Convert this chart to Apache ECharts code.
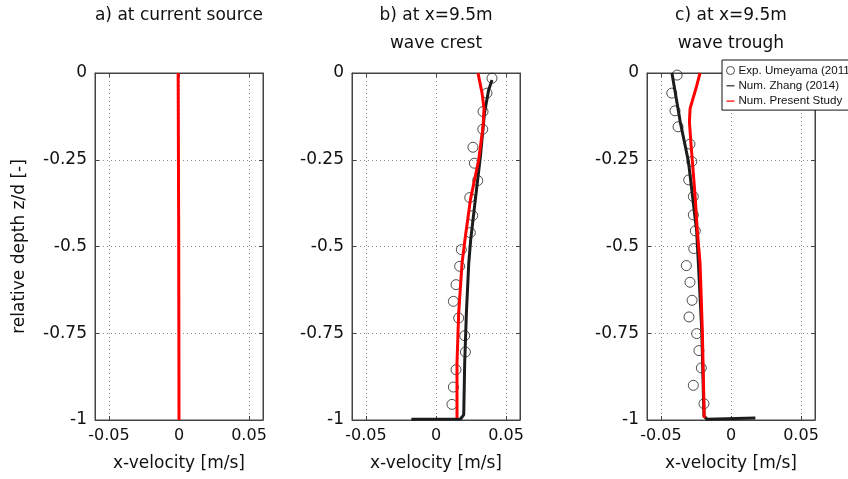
<!DOCTYPE html>
<html>
<head>
<meta charset="utf-8">
<script src="https://cdn.jsdelivr.net/npm/echarts@6/dist/echarts.min.js"></script>
<style>html,body{margin:0;padding:0;background:#fff}#c{width:848px;height:479px}</style>
</head>
<body>
<div id="c"></div>
<script>
// ---- data ----
const xTicks = [-0.05, 0, 0.05];
const yTicks = [0, -0.25, -0.5, -0.75, -1];

const aPresentDepth = [0, -0.25, -0.5, -0.75, -1];
const aPresentVel   = [-0.0006, -0.0004, -0.0002, -0.0001, 0.0];

const bExpDepth = [-0.015, -0.058, -0.111, -0.162, -0.214, -0.26, -0.31, -0.359, -0.411, -0.46, -0.509, -0.557, -0.61, -0.658, -0.706, -0.757, -0.804, -0.855, -0.905, -0.955];
const bExpVel   = [0.040, 0.0364, 0.0336, 0.0334, 0.0264, 0.0274, 0.0298, 0.0241, 0.0262, 0.0245, 0.0181, 0.0169, 0.0143, 0.0124, 0.0162, 0.0205, 0.021, 0.0143, 0.0124, 0.0114];
const bZhangDepth = [-0.02, -0.049, -0.116, -0.241, -0.365, -0.48, -0.548, -0.692, -0.835, -0.985, -0.997, -0.998];
const bZhangVel   = [0.040, 0.0376, 0.0346, 0.0317, 0.0281, 0.0248, 0.0234, 0.0217, 0.0205, 0.0198, 0.0175, -0.0176];
const bPresentDepth = [0, -0.058, -0.102, -0.155, -0.25, -0.365, -0.48, -0.548, -0.692, -0.835, -0.994];
const bPresentVel   = [0.030, 0.0329, 0.0343, 0.0336, 0.0305, 0.0246, 0.0207, 0.0186, 0.0162, 0.015, 0.015];

const cExpDepth = [-0.006, -0.058, -0.109, -0.155, -0.205, -0.255, -0.308, -0.356, -0.409, -0.455, -0.506, -0.555, -0.603, -0.655, -0.703, -0.751, -0.80, -0.85, -0.90, -0.953];
const cExpVel   = [-0.0385, -0.0423, -0.040, -0.0378, -0.0293, -0.028, -0.0302, -0.0269, -0.0269, -0.0255, -0.0266, -0.0319, -0.0293, -0.0278, -0.030, -0.0245, -0.0229, -0.0212, -0.0269, -0.0193];
const cZhangDepth = [0, -0.14, -0.255, -0.457, -0.548, -0.74, -0.989, -0.998, -0.994];
const cZhangVel   = [-0.0422, -0.0363, -0.0304, -0.0245, -0.0233, -0.0209, -0.0193, -0.017, 0.0174];
const cPresentDepth = [0, -0.044, -0.102, -0.14, -0.198, -0.265, -0.351, -0.457, -0.548, -0.74, -0.994];
const cPresentVel   = [-0.0221, -0.025, -0.0292, -0.0297, -0.0287, -0.0274, -0.0257, -0.024, -0.0221, -0.0205, -0.0191];

const titles = ['a) at current source', 'b) at x=9.5m', 'c) at x=9.5m'];
const subTitles = ['', 'wave crest', 'wave trough'];
const xName = 'x-velocity [m/s]';
const yName = 'relative depth z/d [-]';
const sExp = 'Exp. Umeyama (2011)';
const sZhang = 'Num. Zhang (2014)';
const sPresent = 'Num. Present Study';

// ---- build ----
const FONT = 'DejaVu Sans';
const lefts = [95, 352, 647];
const centers = lefts.map(l => l + 84);
const zip = (xs, ys) => xs.map((x, i) => [x, ys[i]]);

const grid = [], xAxis = [], yAxis = [], series = [], title = [];
lefts.forEach((l, i) => {
  grid.push({left: l, top: 73, width: 168, height: 347, show: true, borderColor: '#444', borderWidth: 1, backgroundColor: '#fff'});
  const gridLine = {show: true, lineStyle: {color: '#888', type: [1, 3], width: 1}};
  xAxis.push({
    type: 'value', gridIndex: i, min: -0.06, max: 0.06, position: 'bottom',
    name: xName, nameLocation: 'middle', nameGap: 35,
    nameTextStyle: {fontFamily: FONT, fontSize: 17, color: '#111'},
    axisLine: {show: true, onZero: false, lineStyle: {color: '#444'}},
    axisTick: {show: true, inside: true, length: 4, customValues: xTicks, lineStyle: {color: '#444'}},
    axisLabel: {customValues: xTicks, margin: 8, fontFamily: FONT, fontSize: 16, color: '#111'},
    splitLine: gridLine
  });
  xAxis.push({
    type: 'value', gridIndex: i, min: -0.06, max: 0.06, position: 'top',
    axisLine: {show: true, onZero: false, lineStyle: {color: '#444'}},
    axisTick: {show: true, inside: true, length: 4, customValues: xTicks, lineStyle: {color: '#444'}},
    axisLabel: {show: false, customValues: xTicks},
    splitLine: {show: false}
  });
  yAxis.push({
    type: 'value', gridIndex: i, min: -1, max: 0, interval: 0.25, position: 'left',
    name: i === 0 ? yName : '', nameLocation: 'middle', nameGap: 67, nameRotate: 90,
    nameTextStyle: {fontFamily: FONT, fontSize: 17, color: '#111'},
    axisLine: {show: true, onZero: false, lineStyle: {color: '#444'}},
    axisTick: {show: true, inside: true, length: 4, lineStyle: {color: '#444'}},
    axisLabel: {margin: 8, fontFamily: FONT, fontSize: 17, color: '#111'},
    splitLine: gridLine
  });
  yAxis.push({
    type: 'value', gridIndex: i, min: -1, max: 0, interval: 0.25, position: 'right',
    axisLine: {show: true, onZero: false, lineStyle: {color: '#444'}},
    axisTick: {show: true, inside: true, length: 4, lineStyle: {color: '#444'}},
    axisLabel: {show: false},
    splitLine: {show: false}
  });
  title.push({text: titles[i], left: centers[i], top: 7, padding: 0, textAlign: 'center',
    textStyle: {fontFamily: FONT, fontSize: 17, fontWeight: 'normal', color: '#111'}});
  if (subTitles[i]) title.push({text: subTitles[i], left: centers[i], top: 35, padding: 0, textAlign: 'center',
    textStyle: {fontFamily: FONT, fontSize: 17, fontWeight: 'normal', color: '#111'}});
});

const expStyle = {type: 'scatter', symbol: 'circle', symbolSize: 10,
  itemStyle: {color: 'rgba(255,255,255,0)', borderColor: '#222', borderWidth: 1}, z: 3};
const zhangStyle = {type: 'line', symbol: 'none', lineStyle: {color: '#1c1c1c', width: 3}, itemStyle: {color: '#1c1c1c'}, z: 4};
const presStyle = {type: 'line', symbol: 'none', lineStyle: {color: '#ff0000', width: 3}, itemStyle: {color: '#ff0000'}, z: 5};

series.push(Object.assign({}, presStyle, {name: sPresent, xAxisIndex: 0, yAxisIndex: 0, data: zip(aPresentVel, aPresentDepth)}));
series.push(Object.assign({}, expStyle, {name: sExp, xAxisIndex: 2, yAxisIndex: 2, data: zip(bExpVel, bExpDepth)}));
series.push(Object.assign({}, zhangStyle, {name: sZhang, xAxisIndex: 2, yAxisIndex: 2, data: zip(bZhangVel, bZhangDepth)}));
series.push(Object.assign({}, presStyle, {name: sPresent, xAxisIndex: 2, yAxisIndex: 2, data: zip(bPresentVel, bPresentDepth)}));
series.push(Object.assign({}, expStyle, {name: sExp, xAxisIndex: 4, yAxisIndex: 4, data: zip(cExpVel, cExpDepth)}));
series.push(Object.assign({}, zhangStyle, {name: sZhang, xAxisIndex: 4, yAxisIndex: 4, data: zip(cZhangVel, cZhangDepth)}));
series.push(Object.assign({}, presStyle, {name: sPresent, xAxisIndex: 4, yAxisIndex: 4, data: zip(cPresentVel, cPresentDepth)}));

const chart = echarts.init(document.getElementById('c'), null, {renderer: 'canvas'});
chart.setOption({
  animation: false,
  backgroundColor: '#fff',
  title: title,
  grid: grid,
  xAxis: xAxis,
  yAxis: yAxis,
  legend: {
    orient: 'vertical', left: 722, top: 60, z: 10,
    backgroundColor: '#fff', borderColor: '#111', borderWidth: 1,
    padding: [4.5, 6, 3, 4], itemGap: 3.3, itemWidth: 8, itemHeight: 11,
    selectedMode: false,
    textStyle: {fontFamily: 'Liberation Sans', fontSize: 11.6, lineHeight: 11, color: '#111', padding: [0, 0, 0, -1]},
    data: [
      {name: sExp, icon: 'circle', itemStyle: {color: '#fff', borderColor: '#222', borderWidth: 1}},
      {name: sZhang, icon: 'path://M0,10L16,10L16,12.5L0,12.5Z', itemStyle: {color: '#333', borderWidth: 0}},
      {name: sPresent, icon: 'path://M0,10L16,10L16,12.5L0,12.5Z', itemStyle: {color: '#ff0000', borderWidth: 0}}
    ]
  },
  series: series
});
</script>
</body>
</html>
